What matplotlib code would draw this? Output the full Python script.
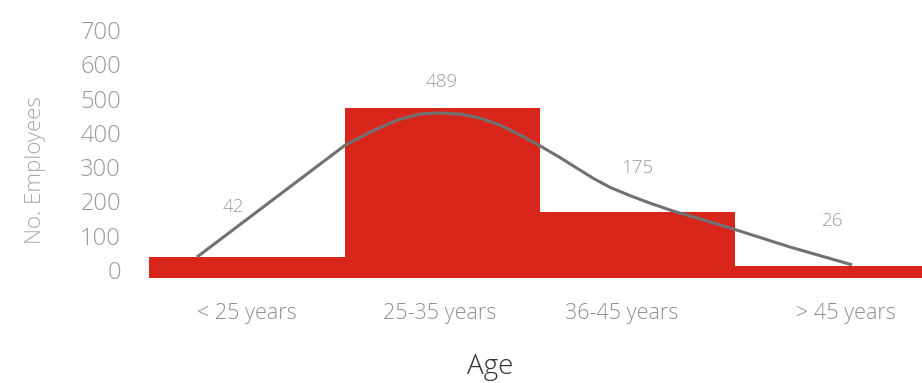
import matplotlib
matplotlib.use("Agg")
import matplotlib.pyplot as plt
from matplotlib import font_manager as fm

# ---- data ----
categories = ["< 25 years", "25-35 years", "36-45 years", "> 45 years"]
value_labels = [42, 489, 175, 26]
bar_tops = [38, 472, 169, 12]          # drawn bar tops
bar_base = -23
# smooth trend line (x in category units, y in employees)
line_x = [-0.256, 0.503, 0.631, 0.769, 0.887, 0.974, 1.092, 1.195, 1.297,
          1.400, 1.503, 1.605, 1.692, 1.774, 1.862, 1.964, 2.067, 2.185,
          2.323, 2.492, 2.785, 3.103]
line_y = [38, 364, 402, 437, 455, 458, 455, 443, 423,
          394, 362, 328, 297, 268, 241, 217, 195, 172,
          149, 120, 67, 15]
label_x = [-0.072, 1.0, 2.0, 3.005]
label_y = [184, 548, 297, 143]
xtick_pos = [0, 0.99, 1.92, 3.07]
yticks = [0, 100, 200, 300, 400, 500, 600, 700]

# pick a light, normal-width sans font if available
fp = None
for name in ["Open Sans", "Roboto", "Noto Sans", "Inter", "Lato"]:
    for f in fm.fontManager.ttflist:
        if (f.name == name and f.weight == 300 and f.style == "normal"
                and str(f.stretch) in ("normal", "400")
                and "ondensed" not in f.fname):
            fp = f.fname
            break
    if fp:
        break


def font(size):
    if fp:
        return fm.FontProperties(fname=fp, size=size)
    return fm.FontProperties(family="DejaVu Sans", size=size)


W, H = 922, 383
fig = plt.figure(figsize=(W / 100, H / 100), dpi=100)
L, R, B, T = 128, 922, 290, 20
ax = fig.add_axes([L / W, 1 - B / H, (R - L) / W, (B - T) / H])

px_per_cat = 195.0
x0 = 247.0
ax.set_xlim((L - x0) / px_per_cat, (R - x0) / px_per_cat)
ppu = 240 / 700.0
ax.set_ylim((270 - B) / ppu, (270 - T) / ppu)

red = "#d9261c"
for i, top in enumerate(bar_tops):
    w = 1.05 if i == 0 else 1.0
    c = i + 0.02 if i == 0 else i + 0.005
    ax.bar(c, top - bar_base, bottom=bar_base, width=w, color=red,
           linewidth=0, zorder=2 + i * 0.01)

ax.plot(line_x, line_y, color="#717171", lw=2.2, zorder=5,
        solid_capstyle="butt", solid_joinstyle="round")

for x, y, v in zip(label_x, label_y, value_labels):
    ax.text(x, y, str(v), ha="center", va="center", fontproperties=font(13.5),
            color="#9c9c9c", zorder=6)

ax.set_xticks(xtick_pos)
ax.set_xticklabels(categories, fontproperties=font(15.5), color="#8f8f8f")
ax.set_yticks(yticks)
ax.set_yticklabels([str(v) for v in yticks], fontproperties=font(17),
                   color="#9a9a9a")
ax.tick_params(axis="x", length=0, pad=9)
ax.tick_params(axis="y", length=0, pad=5)
for s in ax.spines.values():
    s.set_visible(False)

ax.set_ylabel("No. Employees", fontproperties=font(16), color="#a8a8a8")
ax.yaxis.set_label_coords((35 - L) / (R - L), (B - 170) / (B - T))
ax.set_xlabel("Age", fontproperties=font(20), color="#333333")
ax.xaxis.set_label_coords((490 - L) / (R - L), -(367 - B) / (B - T))
ax.xaxis.label.set_va("center")
ax.yaxis.label.set_va("center")

fig.savefig("out.png", dpi=100)
